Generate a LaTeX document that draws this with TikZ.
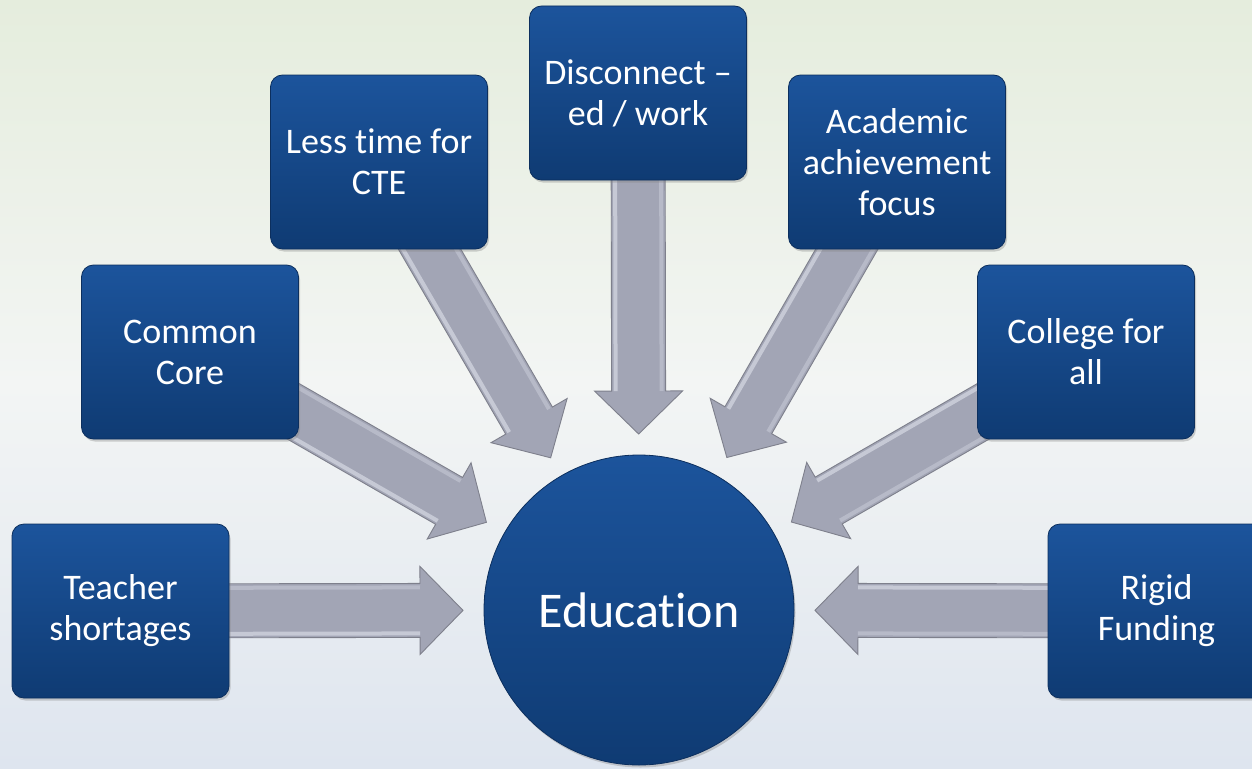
\documentclass[tikz,border=0pt]{standalone}
\usepackage{fontspec}
\setmainfont{Carlito}[Ligatures=NoCommon]
\usetikzlibrary{calc,shadows}
\pgfdeclarelayer{bg}
\pgfdeclarelayer{arr}
\pgfsetlayers{bg,arr,main}
\definecolor{boxtop}{HTML}{1C549C}
\definecolor{boxbot}{HTML}{0F3B73}
\definecolor{boxline}{HTML}{0C2F5E}
\definecolor{arrfill}{HTML}{A2A5B5}
\definecolor{arrlight}{HTML}{CDD0DB}
\definecolor{arrline}{HTML}{7E808C}
\definecolor{bgtop}{HTML}{E5EDDD}
\definecolor{bgmid}{HTML}{F3F5F4}
\definecolor{bgbot}{HTML}{DEE5EF}
\tikzset{
  causebox/.style={rectangle, rounded corners=12pt, minimum width=217pt, minimum height=174pt,
    top color=boxtop, bottom color=boxbot, draw=boxline, line width=0.8pt, text=white,
    align=center, font=\fontsize{36}{41}\selectfont,
    drop shadow={shadow xshift=1.5pt, shadow yshift=-2.5pt, opacity=0.35}},
  hub/.style={circle, minimum size=310pt, inner sep=0pt, top color=boxtop, bottom color=boxbot,
    draw=boxline, line width=0.8pt, text=white, font=\fontsize{50}{56}\selectfont,
    drop shadow={shadow xshift=1.5pt, shadow yshift=-2.5pt, opacity=0.35}},
  arrbody/.style={fill=arrfill},
  arrglow/.style={draw=arrlight, line width=4pt, opacity=0.85},
  arroutline/.style={draw=arrline, line width=0.9pt, line join=miter}
}
\newcommand{\blockarrow}[1]{%
  \coordinate (T) at ($(edu.center)!176pt!(#1.center)$);
  \coordinate (H) at ($(edu.center)!219pt!(#1.center)$);
  \coordinate (S) at (#1.center);
  \path[arrbody] (T) -- ($(H)!44pt!90:(S)$) -- ($(H)!27pt!90:(S)$) -- ($(S)!27pt!-90:(H)$)
    -- ($(S)!27pt!90:(H)$) -- ($(H)!27pt!-90:(S)$) -- ($(H)!44pt!-90:(S)$) -- cycle;
  \path[arrglow] ($(H)!23pt!90:(S)$) -- ($(S)!23pt!-90:(H)$);
  \path[arrglow, opacity=0.5] ($(H)!23pt!-90:(S)$) -- ($(S)!23pt!90:(H)$);
  \path[arroutline] (T) -- ($(H)!44pt!90:(S)$) -- ($(H)!27pt!90:(S)$) -- ($(S)!27pt!-90:(H)$)
    -- ($(S)!27pt!90:(H)$) -- ($(H)!27pt!-90:(S)$) -- ($(H)!44pt!-90:(S)$) -- cycle;
}
\begin{document}
\begin{tikzpicture}[x=1pt, y=-1pt]
\useasboundingbox (0,0) rectangle (1252,768);
\begin{pgfonlayer}{bg}
  \fill[top color=bgtop, bottom color=bgbot, middle color=bgmid] (0,0) rectangle (1252,768);
\end{pgfonlayer}
\node[hub] (edu) at (639,610) {Education};
\node[causebox] (teach) at (120.5,611) {Teacher\\shortages};
\node[causebox] (core) at (190,352) {Common\\Core};
\node[causebox] (cte) at (379,162) {Less time for\\CTE};
\node[causebox] (disc) at (638,93) {Disconnect –\\ed / work};
\node[causebox] (acad) at (897,162) {Academic\\achievement\\focus};
\node[causebox] (coll) at (1086,352) {College for\\all};
\node[causebox] (rigid) at (1156.5,611) {Rigid\\Funding};
\begin{pgfonlayer}{arr}
  \blockarrow{teach}
  \blockarrow{core}
  \blockarrow{cte}
  \blockarrow{disc}
  \blockarrow{acad}
  \blockarrow{coll}
  \blockarrow{rigid}
\end{pgfonlayer}
\end{tikzpicture}
\end{document}
